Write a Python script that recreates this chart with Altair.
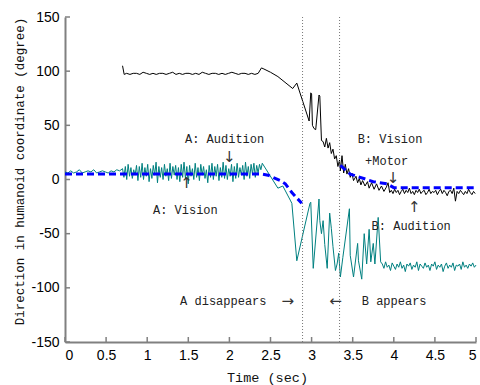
import altair as alt
import pandas as pd

# ---------------- data ----------------
# Teal series (A: Audition)
a_pre_start, a_pre_step = 0.0, 0.035
a_pre_vals = [7, 6, 8, 6, 7, 9, 6, 7, 8, 7, 9, 6, 7, 8, 7, 6, 8, 7, 9, 8]
a_noise_start, a_noise_step = 0.70, 0.017
a_noise_vals = [10, 2, 12, 0, 14, 3, 11, 1, 9, 4, 13, -1, 12, 2, 15, 0, 11, 3, 14, -2,
                10, 1, 13, 4, 16, -3, 12, 2, 11, 0, 14, 3, 10, -1, 15, 1, 12, 4, 13, 0,
                11, -2, 14, 2, 16, 1, 12, -4, 13, 3, 10, 0, 15, 2, 11, -1, 14, 4, 12, 1,
                9, -3, 13, 2, 15, 0, 12, 3, 14, -1, 11, 2, 16, 1, 13, 0, 10, 3, 14, -2,
                12, 1, 15, 2, 11, 4, 13, 0, 16, 3, 12, 1, 14, 5, 15, 2, 13, 6, 14, 9]
a_trans_t = [2.40, 2.59, 2.65, 2.74, 2.76, 2.82, 2.98, 2.99, 3.02, 3.09, 3.10, 3.12, 3.14,
             3.16, 3.19, 3.22, 3.24, 3.26, 3.29, 3.31, 3.33, 3.35, 3.38, 3.46, 3.47, 3.51,
             3.56, 3.57, 3.61, 3.64, 3.67, 3.70, 3.72, 3.75, 3.77, 3.81, 3.84]
a_trans_v = [15, -8, -6, -19, -22, -75, -22, -21, -82, -18, -38, -50, -38, -60, -82, -31,
             -45, -62, -84, -78, -68, -90, -72, -27, -70, -90, -59, -75, -92, -50, -78,
             -46, -76, -59, -78, -35, -76]
a_tail_start, a_tail_step = 3.86, 0.02
a_tail_vals = [-78, -82, -76, -81, -79, -84, -77, -80, -83, -78, -81, -76, -82, -79, -85,
               -78, -80, -77, -83, -79, -81, -76, -84, -78, -80, -82, -77, -81, -79, -84,
               -78, -80, -76, -83, -79, -81, -78, -85, -80, -77, -82, -79, -81, -77, -84,
               -79, -80, -78, -83, -76, -81, -79, -82, -78, -80, -77, -81, -79]

# Black series (B)
b_head_t = [0.70, 0.72]
b_head_v = [105, 97]
b_flat_start, b_flat_step = 0.75, 0.04
b_flat_vals = [98, 97, 98, 98, 97, 99, 98, 97, 98, 97, 98, 98, 97, 98, 99, 97, 98, 97, 98,
               98, 97, 98, 97, 99, 98, 97, 98, 98, 97, 98, 97, 98, 99, 98, 97, 98, 98, 97,
               98, 97, 98]
b_trans_t = [2.39, 2.42, 2.50, 2.59, 2.77, 2.82, 2.97, 2.99, 3.00, 3.01, 3.03, 3.05, 3.09,
             3.10, 3.12, 3.14, 3.16, 3.18, 3.20, 3.22, 3.24, 3.26, 3.28, 3.30, 3.32, 3.34,
             3.35, 3.37, 3.39, 3.41, 3.43, 3.45, 3.47, 3.49, 3.51, 3.54, 3.56, 3.58, 3.60,
             3.62, 3.65, 3.68, 3.70, 3.73, 3.76, 3.79, 3.82, 3.85, 3.88, 3.91, 3.93, 3.95]
b_trans_v = [103, 102, 99, 95, 84, 89, 54, 80, 79, 50, 47, 46, 78, 77, 36, 35, 30, 38, 29,
             34, 24, 28, 19, 22, 12, 18, 8, 22, 6, 14, 5, 10, 2, 6, -1, 3, -3, 1, -5, -1,
             -6, -2, -8, -3, -9, -4, -10, -6, -11, -7, -3, -12]
b_tail_start, b_tail_step = 3.97, 0.02
b_tail_vals = [-10, -13, -9, -12, -10, -14, -11, -9, -13, -10, -12, -8, -13, -11, -14, -10,
               -12, -9, -13, -11, -10, -14, -12, -9, -13, -11, -12, -10, -14, -11, -9, -13,
               -10, -12, -15, -11, -10, -13, -8, -20, -11, -13, -10, -12, -14, -11, -13, -9,
               -12, -14, -11, -13]

# Blue dashed (estimated directions)
blue_seg = [1, 1, 1, 1, 1, 1, 1, 2, 2, 2, 2, 2, 2]
blue_t = [0.0, 2.40, 2.47, 2.62, 2.68, 2.76, 2.88, 3.35, 3.47, 3.75, 3.92, 4.0, 5.0]
blue_v = [5, 5, 4, -1, -4, -12, -22, 13, 5, -2, -4, -7.5, -7.5]

# Event lines
event_t = [2.89, 3.34]

# Annotations
label_text = ["A: Audition", "A: Vision", "B: Vision", "+Motor", "B: Audition",
              "A disappears", "B appears"]
label_t = [1.46, 1.07, 3.56, 3.65, 3.73, 1.40, 3.61]
label_v = [37, -28, 37, 17, -43, -112, -112]
arrow_text = ["↓", "↑", "↓", "↑", "→", "←"]
arrow_t = [2.00, 1.48, 3.99, 4.25, 2.71, 3.29]
arrow_v = [21, -3, 1, -25, -112, -112]

x_ticks = [0, 0.5, 1, 1.5, 2, 2.5, 3, 3.5, 4, 4.5, 5]
y_ticks = [-150, -100, -50, 0, 50, 100, 150]

# ---------------- build tables ----------------
def seg(start, step, vals):
    return [round(start + i * step, 4) for i in range(len(vals))], list(vals)

ta, va = [], []
for tt, vv in [seg(a_pre_start, a_pre_step, a_pre_vals),
               seg(a_noise_start, a_noise_step, a_noise_vals),
               (a_trans_t, a_trans_v),
               seg(a_tail_start, a_tail_step, a_tail_vals)]:
    ta += tt
    va += vv
df_a = pd.DataFrame({"t": ta, "v": va})

tb, vb = [], []
for tt, vv in [(b_head_t, b_head_v),
               seg(b_flat_start, b_flat_step, b_flat_vals),
               (b_trans_t, b_trans_v),
               seg(b_tail_start, b_tail_step, b_tail_vals)]:
    tb += tt
    vb += vv
df_b = pd.DataFrame({"t": tb, "v": vb})

df_blue = pd.DataFrame({"t": blue_t, "v": blue_v, "seg": blue_seg})
df_ev = pd.DataFrame({"t": event_t})
df_lab = pd.DataFrame({"t": label_t, "v": label_v, "text": label_text})
df_arr = pd.DataFrame({"t": arrow_t, "v": arrow_v, "text": arrow_text})
df_xt = pd.DataFrame({"t": x_ticks})
df_yt = pd.DataFrame({"v": y_ticks})

W, H = 411, 325
xs = alt.Scale(domain=[0, 5], nice=False, zero=False)
ys = alt.Scale(domain=[-150, 150], nice=False, zero=False)
AX = "#808080"
MONO = "Liberation Mono"

x_axis = alt.Axis(values=x_ticks, labelExpr="datum.value + ''", ticks=False,
                  grid=False, domainColor=AX, domainWidth=2, labelFont="Liberation Sans",
                  labelFontSize=14, labelColor="black", labelPadding=6,
                  titleFont=MONO, titleFontSize=13.5,
                  titleFontWeight=400, titleColor="#111111",
                  titleX=202, titleY=35, titleBaseline="middle", titleAlign="center")
y_axis = alt.Axis(values=y_ticks, labelExpr="datum.value + ''", ticks=False,
                  grid=False, domainColor=AX, domainWidth=2, labelFont="Liberation Sans",
                  labelFontSize=14, labelColor="black", labelPadding=6,
                  titleFont=MONO,
                  titleFontSize=12.5, titleFontWeight=400, titleColor="#111111",
                  titleX=-46, titleY=154, titleAngle=270, titleAlign="center",
                  titleBaseline="middle")

X = alt.X("t:Q", scale=xs, axis=x_axis, title="Time (sec)")
Y = alt.Y("v:Q", scale=ys, axis=y_axis, title="Direction in humanoid coordinate (degree)")

teal = alt.Chart(df_a).mark_line(color="#008080", strokeWidth=1).encode(
    x=X, y=Y, order="t:Q")
black = alt.Chart(df_b).mark_line(color="black", strokeWidth=1).encode(
    x=X, y=Y, order="t:Q")
blue = alt.Chart(df_blue).mark_line(color="#0000FF", strokeWidth=3, strokeDash=[7, 4]).encode(
    x=X, y=Y, detail="seg:N", order="t:Q")
events = alt.Chart(df_ev).mark_rule(color="#777777", strokeWidth=1, strokeDash=[1, 2]).encode(
    x=X, y=alt.value(0), y2=alt.value(H))
xticks = alt.Chart(df_xt).mark_rule(color=AX, strokeWidth=1.5).encode(
    x=X, y=alt.value(H), y2=alt.value(H - 5))
yticks = alt.Chart(df_yt).mark_rule(color=AX, strokeWidth=1.5).encode(
    y=Y, x=alt.value(0), x2=alt.value(5))
labels = alt.Chart(df_lab).mark_text(align="left", baseline="middle", font=MONO,
                                     fontSize=12, color="#222222").encode(
    x=X, y=Y, text="text:N")
arrows = alt.Chart(df_arr).mark_text(align="center", baseline="middle", font="DejaVu Sans",
                                     fontSize=15, color="#333333").encode(
    x=X, y=Y, text="text:N")

chart = alt.layer(teal, black, blue, events, xticks, yticks, labels, arrows).properties(
    width=W, height=H,
    autosize=alt.AutoSizeParams(type="none"),
    padding={"left": 65, "top": 17, "right": 4, "bottom": 43},
    background="white",
).configure_view(stroke=None).configure_axis(titleFontWeight=400)

chart.save("out.html", embed_options={"renderer": "svg", "actions": False})
